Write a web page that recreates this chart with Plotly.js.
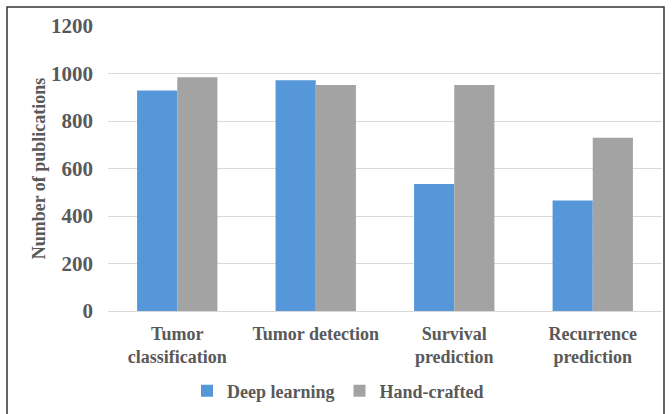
<!DOCTYPE html>
<html>
<head>
<meta charset="utf-8">
<script src="https://cdn.plot.ly/plotly-3.0.1.min.js"></script>
<style>html,body{margin:0;padding:0;background:#fff;}#chart{width:672px;height:414px;}</style>
</head>
<body>
<div id="chart"></div>
<script>
const categories = ["Tumor<br>classification", "Tumor detection", "Survival<br>prediction", "Recurrence<br>prediction"];
const deepLearning = [928, 972, 535, 465];
const handCrafted = [984, 952, 952, 730];
const yTicks = [0, 200, 400, 600, 800, 1000, 1200];

const W = 672, H = 414;
const M = {l: 108, r: 10, t: 26, b: 103, autoexpand: false};
const pw = W - M.l - M.r, ph = H - M.t - M.b;
const px = v => (v - M.l) / pw;
const py = v => (H - M.b - v) / ph;

const txt = '#595959';
const fontFam = 'Liberation Serif, Times New Roman, serif';

const data = [
  {type: 'bar', name: 'Deep learning', x: categories, y: deepLearning,
   marker: {color: '#5597d9'}},
  {type: 'bar', name: 'Hand-crafted', x: categories, y: handCrafted,
   marker: {color: '#a3a3a3'}}
];

const layout = {
  width: W, height: H,
  margin: M,
  paper_bgcolor: '#fff', plot_bgcolor: '#fff',
  font: {family: fontFam, color: txt, size: 18, weight: 'bold'},
  barmode: 'group', bargap: 0.42, bargroupgap: 0,
  showlegend: true,
  legend: {orientation: 'h', x: px(338), xanchor: 'center', y: py(391), yanchor: 'middle',
           font: {family: fontFam, size: 18, color: txt, weight: 'bold'}, itemwidth: 30,
           tracegroupgap: 0},
  xaxis: {showgrid: false, showline: false, zeroline: false, ticks: '', ticklabelstandoff: 10,
          tickfont: {family: fontFam, size: 18, color: txt, weight: 'bold'}, automargin: false},
  yaxis: {range: [0, 1200], tickvals: yTicks, ticktext: yTicks.map(String),
          showgrid: true, gridcolor: '#d9d9d9', gridwidth: 1,
          zeroline: true, zerolinecolor: '#d9d9d9', zerolinewidth: 1, showline: false,
          ticks: '', ticklabelstandoff: 14,
          tickfont: {family: fontFam, size: 21, color: txt, weight: 'bold'},
          title: {text: 'Number of publications', standoff: 0,
                  font: {family: fontFam, size: 18, color: txt, weight: 'bold'}},
          automargin: false},
  shapes: [{type: 'rect', xref: 'paper', yref: 'paper',
            x0: px(7), x1: px(664), y0: py(430), y1: py(7),
            line: {color: '#333', width: 1.5}, fillcolor: 'rgba(0,0,0,0)', layer: 'below'}]
};

Plotly.newPlot('chart', data, layout, {displayModeBar: false, staticPlot: true});
</script>
</body>
</html>
